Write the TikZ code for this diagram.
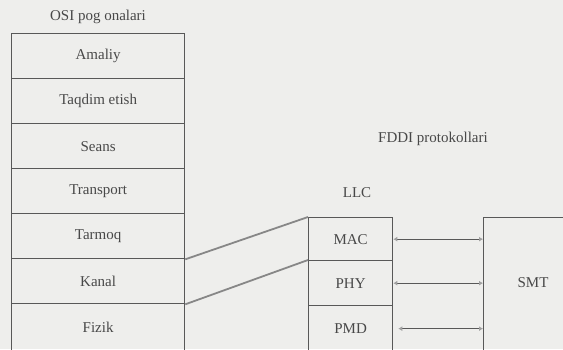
\documentclass[tikz,border=0pt]{standalone}
\usepackage{fontspec}
\setmainfont{Liberation Serif}
\usetikzlibrary{arrows.meta}
\definecolor{bg}{RGB}{238,238,236}
\definecolor{ln}{RGB}{88,88,88}
\definecolor{tx}{RGB}{72,72,72}
\definecolor{tip}{RGB}{160,160,160}
\definecolor{dg}{RGB}{135,135,135}
\begin{document}
\begin{tikzpicture}[x=1pt,y=-1pt,
  box/.style={draw=ln, line width=1.3pt, inner sep=0pt, text=tx,
    font=\fontsize{15}{17}\selectfont, anchor=north west},
  osi/.style={box, minimum width=173pt, minimum height=45pt},
  fd/.style={box, minimum width=84pt},
  lbl/.style={text=tx, font=\fontsize{15}{17}\selectfont, inner sep=0pt},
  conn/.style={draw=ln, line width=1.2pt, {Latex[length=4pt,width=5pt,color=tip]}-{Latex[length=4pt,width=5pt,color=tip]}},
  diag/.style={draw=dg, line width=1.8pt}]
\useasboundingbox (0,0) rectangle (563,349);
\fill[bg] (0,0) rectangle (563,349);
% OSI stack
\node[lbl] (osititle) at (98,17) {OSI pog onalari};
\node[osi] (amaliy) at (11,33) {Amaliy};
\node[osi] (taqdim) at (11,78) {Taqdim etish};
\node[osi] (seans) at (11,123) {Seans};
\node[osi] (transport) at (11,168) {Transport};
\node[osi] (tarmoq) at (11,213) {Tarmoq};
\node[osi] (kanal) at (11,258) {Kanal};
\node[osi, minimum height=48pt] (fizik) at (11,303) {Fizik};
% FDDI
\node[lbl] (fddititle) at (433,139) {FDDI protokollari};
\node[lbl] (llc) at (357,193) {LLC};
\node[fd, minimum height=43pt] (mac) at (308,217) {MAC};
\node[fd, minimum height=45pt] (phy) at (308,260) {PHY};
\node[fd, minimum height=46pt] (pmd) at (308,305) {PMD};
\node[box, minimum width=100pt, minimum height=140pt] (smt) at (483,217) {};
\node[lbl] (smtlabel) at (533,283) {SMT};
% connectors
\draw[conn] (mac.east) -- (mac.east -| smt.west);
\draw[conn] (phy.east) -- (phy.east -| smt.west);
\draw[conn, shorten <=5pt] (pmd.east) -- (pmd.east -| smt.west);
\draw[diag] (tarmoq.south east) -- (mac.north west);
\draw[diag] (kanal.south east) -- (phy.north west);
\end{tikzpicture}
\end{document}
